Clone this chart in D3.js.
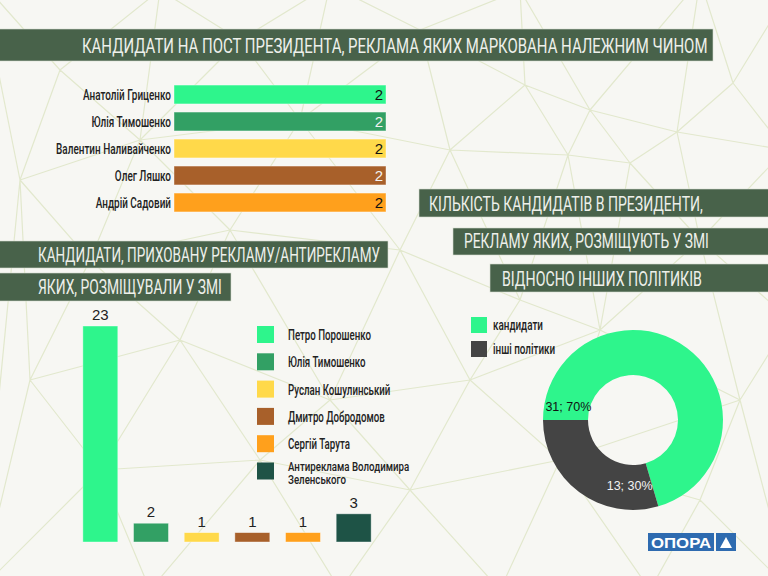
<!DOCTYPE html>
<html>
<head>
<meta charset="utf-8">
<script src="https://cdn.jsdelivr.net/npm/d3@7"></script>
<style>
  body { margin: 0; background: #f7f7f3; }
  svg { display: block; }
</style>
</head>
<body>
<div id="chart"></div>
<script>
// ---- data ----
const titleTop = "КАНДИДАТИ НА ПОСТ ПРЕЗИДЕНТА, РЕКЛАМА ЯКИХ МАРКОВАНА НАЛЕЖНИМ ЧИНОМ";

const markedNames = ["Анатолій Гриценко", "Юлія Тимошенко", "Валентин Наливайченко", "Олег Ляшко", "Андрій Садовий"];
const markedValues = [2, 2, 2, 2, 2];

const hiddenTitle = ["КАНДИДАТИ, ПРИХОВАНУ РЕКЛАМУ/АНТИРЕКЛАМУ", "ЯКИХ, РОЗМІЩУВАЛИ У ЗМІ"];
const hiddenNames = ["Петро Порошенко", "Юлія Тимошенко", "Руслан Кошулинський", "Дмитро Добродомов", "Сергій Тарута", "Антиреклама Володимира Зеленського"];
const hiddenValues = [23, 2, 1, 1, 1, 3];

const shareTitle = ["КІЛЬКІСТЬ КАНДИДАТІВ В ПРЕЗИДЕНТИ,", "РЕКЛАМУ ЯКИХ, РОЗМІЩУЮТЬ У ЗМІ", "ВІДНОСНО ІНШИХ ПОЛІТИКІВ"];
const shareLabels = ["кандидати", "інші політики"];
const shareValues = [31, 13];
const sharePercents = [70, 30];

const markedColors = ["#2ef58c", "#32a064", "#ffd94a", "#a8602a", "#ffa01c"];
const hiddenColors = ["#2ef58c", "#32a064", "#ffd94a", "#a8602a", "#ffa01c", "#1e5346"];
const shareColors = ["#2ef58c", "#444444"];

const width = 768, height = 576;
const condFont = "Roboto, 'Open Sans', sans-serif";
const plainFont = "'Liberation Sans', Arial, sans-serif";
const headBg = "#48624a";

const svg = d3.select("#chart").append("svg")
    .attr("width", width)
    .attr("height", height);

svg.append("rect").attr("width", width).attr("height", height).attr("fill", "#f7f7f3");

// decorative low-poly mesh in the background
const meshPts = [[-20,-20],[160,-10],[330,-15],[520,-10],[700,-20],[790,-10],
  [60,70],[240,40],[420,30],[525,85],[590,110],[733,83],[785,150],
  [20,180],[140,140],[300,120],[450,150],[568,155],[630,163],[677,132],
  [90,260],[230,230],[400,250],[520,300],[700,240],[790,320],
  [30,380],[180,340],[330,400],[470,380],[600,330],[740,400],
  [100,470],[260,460],[410,490],[560,460],[700,500],[790,590],
  [-20,590],[150,590],[340,590],[500,590],[650,590]];
svg.append("path")
    .attr("d", d3.Delaunay.from(meshPts).render())
    .attr("fill", "none")
    .attr("stroke", "#e2e8cd")
    .attr("stroke-width", 1.2);

// condensed text: a normal font squeezed horizontally.
// str may be an array of lines; opts.width fixes the final width, opts.ratio a squeeze factor
function condText(parent, str, x, y, opts) {
  const g = parent.append("g");
  const t = g.append("text")
      .attr("text-anchor", opts.anchor || "start")
      .attr("fill", opts.fill || "#222")
      .style("font-family", condFont)
      .style("font-size", opts.size + "px")
      .style("font-weight", opts.weight || 400);
  if (Array.isArray(str)) {
    str.forEach((l, k) => t.append("tspan").attr("x", 0).attr("y", k * opts.lh).text(l));
  } else {
    t.text(str);
  }
  const len = t.node().getComputedTextLength();
  const sx = opts.width ? opts.width / len : opts.ratio;
  g.attr("transform", `translate(${x},${y}) scale(${sx},1)`);
  return t;
}
function naturalLen(str, size, weight) {
  const t = svg.append("text")
      .style("font-family", condFont)
      .style("font-size", size + "px")
      .style("font-weight", weight)
      .text(str);
  const l = t.node().getComputedTextLength();
  t.remove();
  return l;
}

function heading(t, box) {
  svg.append("rect")
      .attr("x", box.x).attr("y", box.y)
      .attr("width", box.w).attr("height", box.h)
      .attr("fill", headBg)
      .attr("stroke", "#d8ddd0").attr("stroke-width", 0.6);
  condText(svg, t, box.tx, box.base, {size: box.size, width: box.len, fill: "#eef0ea", weight: 400});
}

heading(titleTop, {x: -2, y: 29, w: 715, h: 32, tx: 82, base: 53, size: 21, len: 626});
heading(hiddenTitle[0], {x: -2, y: 241, w: 390, h: 27, tx: 38, base: 262, size: 19.5, len: 342});
heading(hiddenTitle[1], {x: -2, y: 273, w: 233, h: 28, tx: 38, base: 294, size: 19.5, len: 184});
heading(shareTitle[0], {x: 419, y: 189, w: 352, h: 28, tx: 429, base: 211, size: 19.5, len: 274});
heading(shareTitle[1], {x: 453, y: 228, w: 318, h: 27, tx: 464, base: 248, size: 19.5, len: 245});
heading(shareTitle[2], {x: 490, y: 264, w: 281, h: 28, tx: 502, base: 286, size: 19.5, len: 200});

const inkFor = c => d3.lab(c).l > 65 ? "#111" : "#f2f2f2";
const labSize = 14.5, labWeight = 500;

// ---- chart 1: horizontal bars ----
const x1 = d3.scaleLinear().domain([0, 2]).range([174, 386]);
const y1 = d3.scaleBand().domain(markedNames).range([81, 216]).paddingInner(0.3).paddingOuter(0.15);

const g1 = svg.append("g");
g1.selectAll("rect")
  .data(markedNames)
  .join("rect")
    .attr("x", x1(0))
    .attr("y", d => y1(d))
    .attr("width", (d, i) => x1(markedValues[i]) - x1(0))
    .attr("height", y1.bandwidth())
    .attr("fill", (d, i) => markedColors[i])
    .attr("stroke", "#ffffff").attr("stroke-opacity", 0.5).attr("stroke-width", 0.8);

const labRatio1 = 88 / naturalLen(markedNames[0], labSize, labWeight);
markedNames.forEach(d => {
  condText(g1, d, x1(0) - 3, y1(d) + y1.bandwidth() / 2 + 5.5,
    {size: labSize, weight: labWeight, anchor: "end", ratio: labRatio1});
});

g1.selectAll("text.val")
  .data(markedNames)
  .join("text")
    .attr("class", "val")
    .attr("x", (d, i) => x1(markedValues[i]) - 3)
    .attr("y", d => y1(d) + y1.bandwidth() / 2)
    .attr("dy", "0.37em")
    .attr("text-anchor", "end")
    .attr("fill", (d, i) => inkFor(markedColors[i]))
    .style("font-family", plainFont)
    .style("font-size", "15px")
    .text((d, i) => markedValues[i]);

// ---- chart 2: vertical bars ----
const x2 = d3.scaleBand().domain(hiddenNames).range([75, 379]).paddingInner(0.31).paddingOuter(0.155);
const y2 = d3.scaleLinear().domain([0, 23]).range([542, 326]);

const g2 = svg.append("g");
g2.selectAll("rect")
  .data(hiddenNames)
  .join("rect")
    .attr("x", d => x2(d))
    .attr("y", (d, i) => y2(hiddenValues[i]))
    .attr("width", x2.bandwidth())
    .attr("height", (d, i) => y2(0) - y2(hiddenValues[i]))
    .attr("fill", (d, i) => hiddenColors[i])
    .attr("stroke", "#ffffff").attr("stroke-opacity", 0.5).attr("stroke-width", 0.8);

g2.selectAll("text.val")
  .data(hiddenNames)
  .join("text")
    .attr("class", "val")
    .attr("x", d => x2(d) + x2.bandwidth() / 2)
    .attr("y", (d, i) => y2(hiddenValues[i]) - 6)
    .attr("text-anchor", "middle")
    .attr("fill", "#222")
    .style("font-family", plainFont)
    .style("font-size", "15px")
    .text((d, i) => hiddenValues[i]);

// legend
const leg2 = svg.append("g").attr("transform", "translate(257,326)");
const labRatio2 = 83 / naturalLen(hiddenNames[0], labSize, labWeight);
hiddenNames.forEach((d, i) => {
  const row = leg2.append("g").attr("transform", `translate(0,${i * 27.3})`);
  row.append("rect")
      .attr("width", 17).attr("height", 17)
      .attr("fill", hiddenColors[i]);
  // wrap to about 122px of squeezed width
  const words = d.split(" ");
  const lines = [];
  let line = [];
  words.forEach(w => {
    line.push(w);
    if (naturalLen(line.join(" "), labSize, labWeight) * labRatio2 > 122 && line.length > 1) {
      line.pop();
      lines.push(line.join(" "));
      line = [w];
    }
  });
  lines.push(line.join(" "));
  if (lines.length === 1) {
    condText(row, lines[0], 31, 14, {size: labSize, weight: labWeight, ratio: labRatio2});
  } else {
    // two tight lines, slightly smaller type
    const r = 83 / naturalLen(hiddenNames[0], 13.5, labWeight);
    condText(row, lines, 31, 8.5, {size: 13.5, weight: labWeight, ratio: r, lh: 13});
  }
});

// ---- chart 3: donut ----
const cx = 633, cy = 420, rOut = 90, rIn = 45;
const pie = d3.pie().sort(null).value(d => d)
    .startAngle(-Math.PI / 2).endAngle(1.5 * Math.PI);
const arcs = pie(shareValues);
const arc = d3.arc().innerRadius(rIn).outerRadius(rOut);

const g3 = svg.append("g").attr("transform", `translate(${cx},${cy})`);
g3.selectAll("path")
  .data(arcs)
  .join("path")
    .attr("d", arc)
    .attr("fill", (d, i) => shareColors[i]);

const labR = 66;
g3.selectAll("text")
  .data(arcs)
  .join("text")
    .attr("x", (d, i) => Math.sin(d.startAngle + 0.2) * labR - i * 9)
    .attr("y", d => -Math.cos(d.startAngle + 0.2) * labR)
    .attr("dy", "0.35em")
    .attr("text-anchor", "middle")
    .attr("fill", (d, i) => inkFor(shareColors[i]))
    .style("font-family", plainFont)
    .style("font-size", "12.5px")
    .text((d, i) => `${shareValues[i]}; ${sharePercents[i]}%`);

const leg3 = svg.append("g").attr("transform", "translate(471,317)");
const labRatio3 = 50 / naturalLen(shareLabels[0], labSize, labWeight);
shareLabels.forEach((d, i) => {
  const row = leg3.append("g").attr("transform", `translate(0,${i * 24})`);
  row.append("rect")
      .attr("width", 16).attr("height", 16)
      .attr("fill", shareColors[i]);
  condText(row, d, 22, 12.5, {size: labSize, weight: labWeight, ratio: labRatio3});
});

// ---- logo ----
const logo = svg.append("g");
logo.append("rect").attr("x", 648).attr("y", 533).attr("width", 66).attr("height", 18).attr("fill", "#2e6bb0");
logo.append("rect").attr("x", 716).attr("y", 533).attr("width", 20).attr("height", 18).attr("fill", "#2e6bb0");
logo.append("text")
    .attr("x", 681).attr("y", 547.5)
    .attr("text-anchor", "middle")
    .attr("fill", "#fff")
    .style("font-family", plainFont)
    .style("font-size", "15px")
    .style("font-weight", "900")
    .attr("textLength", 60)
    .attr("lengthAdjust", "spacingAndGlyphs")
    .text("ОПОРА");
logo.append("path")
    .attr("d", d3.line()([[720, 548], [732, 548], [726, 537]]) + "Z")
    .attr("fill", "#fff");
</script>
</body>
</html>
